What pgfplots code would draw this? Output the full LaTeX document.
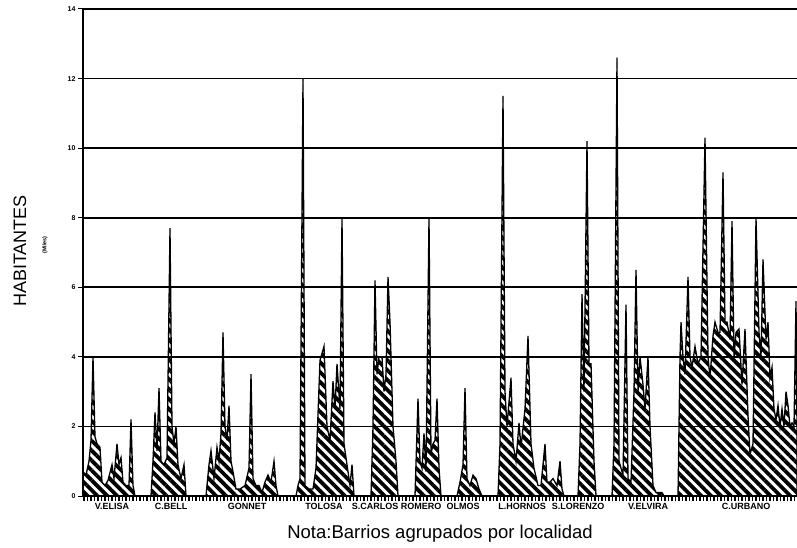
\documentclass[border=0pt]{standalone}
\usepackage{fontspec}
\setmainfont{Liberation Sans}
\usepackage{pgfplots}
\pgfplotsset{compat=1.18}
\usetikzlibrary{patterns.meta}
\begin{document}
\begin{tikzpicture}
\useasboundingbox (0,0) rectangle (797pt,547pt);
\begin{axis}[
  at={(83pt,51pt)}, anchor=south west,
  scale only axis, width=714pt, height=487pt,
  xmin=83, xmax=797, ymin=0, ymax=14,
  axis lines=left, axis line style={-, line width=1.6pt},
  ytick={0,2,...,14},
  ymajorgrids, grid style={line width=1.6pt, black},
  xtick={84,87.5,...,797}, xticklabels={},
  tick align=outside,
  x tick style={line width=1.5pt, black}, major tick length=5pt,
  y tick style={line width=1pt, black},
  /pgf/number format/assume math mode=true,
  yticklabel style={font=\fontsize{7}{8}\selectfont\bfseries, xshift=1pt},
  clip=false,
]
\addplot[line width=1.3pt, black, line join=miter,
  pattern={Lines[angle=-45, distance=7pt, line width=3.8pt]}] coordinates {
(83,0.7) (86,0.6) (89,1.0) (91,1.6) (93,4.0) (95,1.7) (97,1.5) (100,1.4) (102,0.4) (105,0.3) (108,0.45) (112,0.9) (114,0.5) (117,1.5) (119,0.9) (121,1.1) (123,0.4) (126,0.3) (129,0.3) (131,2.2) (133,0.3) (135,0)
(151,0) (153,1.0) (155,2.4) (157,1.3) (159,3.1) (161,1.0) (164,0.9) (167,1.1) (170,7.7) (172,2.0) (174,1.5) (176,2.0) (178,0.9) (181,0.5) (184,0.9) (186,0)
(206,0) (209,0.9) (211,1.3) (214,0.5) (217,1.4) (219,1.0) (221,1.8) (223,4.7) (225,2.0) (227,1.6) (229,2.6) (231,1.0) (233,0.7) (236,0.2) (240,0.2) (245,0.3) (249,0.8) (251,3.5) (253,0.5) (256,0.3) (259,0.3) (262,0.1) (265,0.4) (268,0.6) (271,0.4) (274,1.0) (276,0.3) (278,0)
(296,0) (298,0.3) (300,0.5) (303,12.0) (305,0.3) (309,0.2) (313,0.2) (316,0.8) (320,3.9) (324,4.3) (327,2.0) (330,1.6) (333,3.3) (335,2.5) (337,3.8) (340,2.5) (342,8.0) (344,1.5) (347,0.9) (350,0.3) (352,0.9) (354,0)
(371,0) (373,2.0) (375,6.2) (377,3.5) (379,4.0) (382,4.0) (384,3.0) (386,3.5) (388,6.3) (390,5.0) (393,2.0) (396,1.0) (398,0)
(415,0) (418,2.8) (420,1.0) (422,0.8) (424,1.8) (426,0.7) (429,8.0) (431,1.2) (433,1.5) (435,1.6) (437,2.8) (439,0.8) (441,0)
(457,0) (460,0.4) (463,0.9) (465,3.1) (467,0.5) (470,0.3) (473,0.6) (476,0.5) (479,0.2) (482,0)
(498,0) (500,1.5) (503,11.5) (505,3.0) (507,2.0) (511,3.4) (513,1.5) (516,1.0) (519,2.1) (521,1.4) (525,2.5) (528,4.6) (531,1.5) (534,0.8) (538,0.3) (541,0.3) (545,1.5) (547,0.4) (550,0.4) (553,0.5) (557,0.3) (560,1.0) (562,0.2) (564,0)
(578,0) (580,1.5) (582,5.8) (584,3.0) (587,10.2) (589,3.8) (591,3.8) (594,1.0) (596,0)
(612,0) (614,1.5) (617,12.6) (619,1.0) (621,0.8) (623,0.6) (626,5.5) (628,0.5) (631,0.4) (634,3.0) (636,6.5) (638,3.0) (640,4.0) (643,3.2) (645,2.5) (648,4.0) (650,2.0) (653,0.3) (656,0.1) (662,0.1) (664,0)
(678,0) (680,4.0) (681,5.0) (683,4.0) (685,3.5) (688,6.3) (690,4.0) (692,3.7) (695,4.3) (698,3.8) (701,4.0) (705,10.3) (708,4.0) (710,3.4) (713,4.6) (715,5.0) (718,4.7) (720,4.7) (723,9.3) (725,5.0) (727,5.0) (730,4.5) (732,7.9) (734,4.0) (736,4.7) (739,4.8) (742,3.2) (745,4.8) (748,2.3) (750,1.2) (753,1.5) (756,8.0) (759,4.7) (761,4.0) (763,6.8) (766,4.5) (768,5.0) (770,3.4) (772,3.7) (774,2.5) (776,2.2) (778,2.6) (780,2.0) (782,2.5) (784,2.0) (786,3.0) (788,2.6) (790,2.0) (792,2.1) (794,2.0) (796,5.6) (797,2.0)
} \closedcycle;
\foreach \xx/\lab in {112/V.ELISA,171/C.BELL,247/GONNET,324/TOLOSA,375/S.CARLOS,421/ROMERO,463/OLMOS,522/L.HORNOS,578/S.LORENZO,648/V.ELVIRA,746/C.URBANO}{
  \edef\temp{\noexpand\node[anchor=north, inner sep=0pt, font=\noexpand\fontsize{9}{10}\noexpand\selectfont\noexpand\bfseries] at (axis cs:\xx,0) [yshift=-7pt] {\lab};}
  \temp
}
\end{axis}
\node[rotate=90, font=\fontsize{18}{20}\selectfont, inner sep=0pt] at (20pt,296pt) {HABITANTES};
\node[rotate=90, font=\fontsize{5.5}{6}\selectfont\bfseries, inner sep=0pt] at (45pt,302pt) {(Miles)};
\node[font=\fontsize{18.5}{20}\selectfont, inner sep=0pt] at (440pt,13pt) {Nota:Barrios agrupados por localidad};
\end{tikzpicture}
\end{document}
